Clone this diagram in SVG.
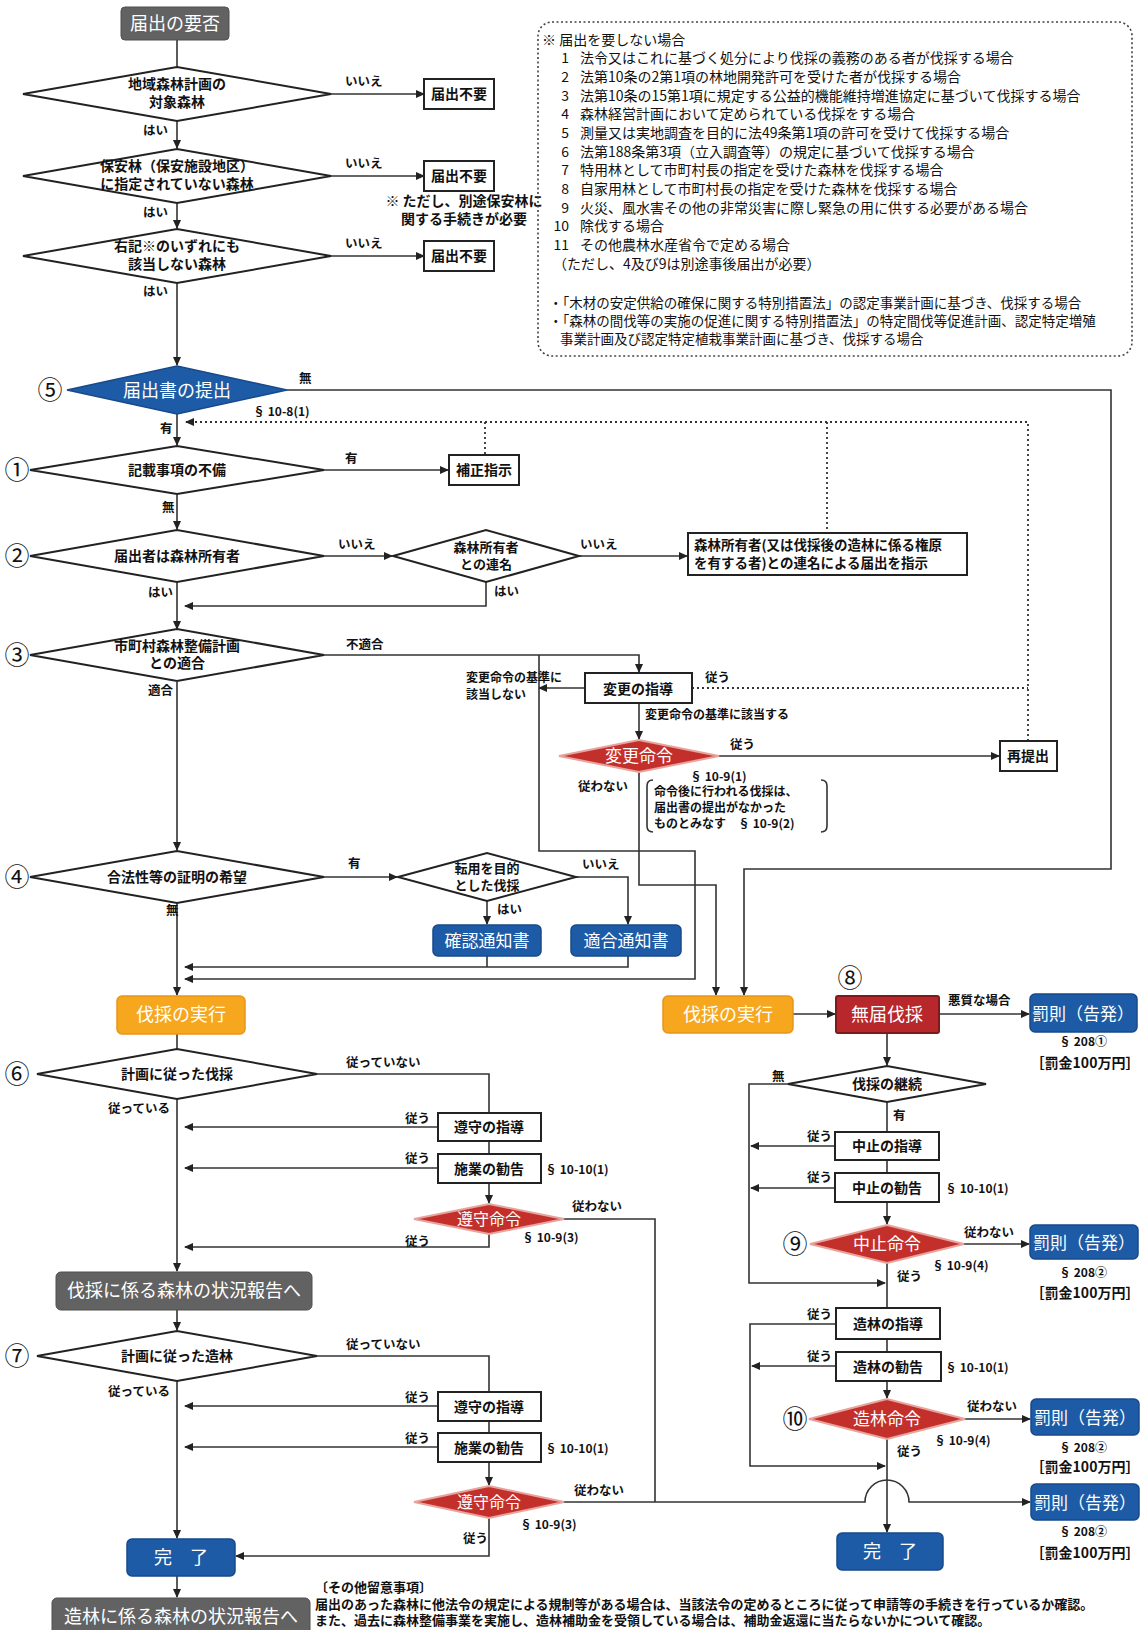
<svg xmlns="http://www.w3.org/2000/svg" width="1146" height="1630" viewBox="0 0 1146 1630">
<defs>
<marker id="ar" markerWidth="9" markerHeight="8" refX="8" refY="4" orient="auto" markerUnits="userSpaceOnUse"><path d="M0,0 L9,4 L0,8 z" fill="#222"/></marker>
<style>
text{font-family:"Noto Sans CJK JP","Liberation Sans",sans-serif;fill:#111}
.t{font-size:14px;font-weight:bold;text-anchor:middle}
.s{font-size:12.5px;font-weight:bold}
.sm{font-size:12px;font-weight:bold}
.w{font-size:18px;fill:#fff;text-anchor:middle}
.n{font-size:14px}
.nb{font-size:13.5px}
.rm{font-size:13px;font-weight:bold}
.cl{font-size:25px;text-anchor:middle}
.d{fill:#fff;stroke:#222;stroke-width:2}
.b{fill:#fff;stroke:#222;stroke-width:2}
.red{fill:#c3302b;stroke:#e8a39c;stroke-width:2}
.blue{fill:#1e5ba6;stroke:#174a8a;stroke-width:1.5}
.or{fill:#f6a71d;stroke:#e8951a;stroke-width:1.5}
.gr{fill:#626262;stroke:#4e4e4e;stroke-width:1}
.c{fill:none;stroke:#333;stroke-width:1.6}
.a{fill:none;stroke:#333;stroke-width:1.6;marker-end:url(#ar)}
.dt{fill:none;stroke:#333;stroke-width:1.8;stroke-dasharray:2 3}
</style>
</defs>
<rect width="1146" height="1630" fill="#fff"/>

<g id="connectors">
<line class="c" x1="177" y1="40" x2="177" y2="70"/>
<line class="a" x1="331" y1="94" x2="424" y2="94"/>
<line class="a" x1="177" y1="121" x2="177" y2="148"/>
<line class="a" x1="331" y1="176" x2="424" y2="176"/>
<line class="a" x1="177" y1="203" x2="177" y2="228"/>
<line class="a" x1="331" y1="256" x2="424" y2="256"/>
<line class="a" x1="177" y1="283" x2="177" y2="365"/>
<polyline class="a" points="287,390 1111,390 1111,869 744,869 744,995"/>
<line class="a" x1="177" y1="414" x2="177" y2="445"/>
<polyline class="dt" points="1028,741 1028,422 186,422" marker-end="url(#ar)"/>
<line class="dt" x1="485" y1="422" x2="485" y2="455"/>
<line class="dt" x1="827" y1="422" x2="827" y2="533"/>
<line class="dt" x1="692" y1="688" x2="1028" y2="688"/>
<line class="a" x1="324" y1="470" x2="448" y2="470"/>
<line class="a" x1="177" y1="494" x2="177" y2="529"/>
<line class="a" x1="324" y1="556" x2="392" y2="556"/>
<line class="a" x1="579" y1="556" x2="687" y2="556"/>
<polyline class="a" points="486,582 486,606 185,606"/>
<line class="a" x1="177" y1="582" x2="177" y2="629"/>
<polyline class="a" points="324,655 639,655 639,672"/>
<polyline class="a" points="585,688 539,688"/>
<polyline class="a" points="539,655 539,851 695,851 695,979 185,979"/>
<line class="a" x1="639" y1="703" x2="639" y2="739"/>
<line class="a" x1="719" y1="756" x2="999" y2="756"/>
<polyline class="a" points="639,772 639,885 716,885 716,995"/>
<line class="a" x1="177" y1="682" x2="177" y2="850"/>
<line class="a" x1="324" y1="877" x2="397" y2="877"/>
<polyline class="a" points="576,877 628,877 628,924"/>
<line class="a" x1="487" y1="901" x2="487" y2="924"/>
<polyline class="c" points="487,956 487,967"/>
<polyline class="a" points="628,956 628,967 185,967"/>
<line class="a" x1="177" y1="903" x2="177" y2="995"/>
<line class="c" x1="177" y1="1034" x2="177" y2="1049"/>
<line class="a" x1="793" y1="1014" x2="835" y2="1014"/>
<line class="a" x1="939" y1="1014" x2="1029" y2="1014"/>
<line class="a" x1="887" y1="1033" x2="887" y2="1065"/>
<polyline class="a" points="788,1084 749,1084 749,1283 885,1283"/>
<line class="c" x1="887" y1="1102" x2="887" y2="1132"/>
<line class="c" x1="887" y1="1160" x2="887" y2="1173"/>
<line class="a" x1="835" y1="1146" x2="751" y2="1146"/>
<line class="a" x1="835" y1="1188" x2="751" y2="1188"/>
<line class="a" x1="887" y1="1202" x2="887" y2="1224"/>
<line class="a" x1="964" y1="1244" x2="1029" y2="1244"/>
<line class="c" x1="887" y1="1263" x2="887" y2="1308"/>
<line class="c" x1="887" y1="1339" x2="887" y2="1352"/>
<polyline class="a" points="836,1324 750,1324 750,1466 885,1466"/>
<line class="a" x1="836" y1="1366" x2="752" y2="1366"/>
<line class="a" x1="887" y1="1381" x2="887" y2="1398"/>
<line class="a" x1="965" y1="1419" x2="1030" y2="1419"/>
<line class="a" x1="887" y1="1439" x2="887" y2="1532"/>
<path class="a" d="M564,1502 L865,1502 A22,22 0 0 1 909,1502 L1030,1502"/>
<polyline class="c" points="564,1219 655,1219 655,1502"/>
<polyline class="c" points="317,1074 489,1074 489,1113"/>
<line class="c" x1="489" y1="1141" x2="489" y2="1154"/>
<line class="a" x1="438" y1="1127" x2="185" y2="1127"/>
<line class="a" x1="438" y1="1168" x2="185" y2="1168"/>
<line class="a" x1="489" y1="1183" x2="489" y2="1203"/>
<polyline class="a" points="489,1234 489,1247 185,1247"/>
<line class="a" x1="177" y1="1099" x2="177" y2="1271"/>
<line class="a" x1="177" y1="1310" x2="177" y2="1330"/>
<polyline class="c" points="317,1356 489,1356 489,1392"/>
<line class="c" x1="489" y1="1421" x2="489" y2="1433"/>
<line class="a" x1="438" y1="1406" x2="185" y2="1406"/>
<line class="a" x1="438" y1="1447" x2="185" y2="1447"/>
<line class="a" x1="489" y1="1462" x2="489" y2="1485"/>
<polyline class="a" points="489,1518 489,1556 236,1556"/>
<line class="a" x1="177" y1="1381" x2="177" y2="1538"/>
<line class="a" x1="177" y1="1576" x2="177" y2="1597"/>
</g>

<g id="edge-labels">
<text class="s" x="345" y="86">いいえ</text>
<text class="s" x="143" y="135">はい</text>
<text class="s" x="345" y="168">いいえ</text>
<text class="s" x="143" y="217">はい</text>
<text class="s" x="345" y="248">いいえ</text>
<text class="s" x="143" y="296">はい</text>
<text class="s" x="299" y="383">無</text>
<text class="sm" x="253" y="416">§ 10-8(1)</text>
<text class="s" x="160" y="433">有</text>
<text class="s" x="345" y="463">有</text>
<text class="s" x="162" y="512">無</text>
<text class="s" x="338" y="549">いいえ</text>
<text class="s" x="580" y="549">いいえ</text>
<text class="s" x="148" y="597">はい</text>
<text class="s" x="494" y="596">はい</text>
<text class="s" x="346" y="649">不適合</text>
<text class="s" x="148" y="695">適合</text>
<text class="sm" x="466" y="682">変更命令の基準に</text>
<text class="sm" x="466" y="699">該当しない</text>
<text class="s" x="705" y="682">従う</text>
<text class="sm" x="645" y="719">変更命令の基準に該当する</text>
<text class="s" x="730" y="749">従う</text>
<text class="sm" x="690" y="781">§ 10-9(1)</text>
<text class="s" x="578" y="791">従わない</text>
<path class="c" d="M653,780 Q647,780 647,786 L647,826 Q647,832 653,832"/>
<path class="c" d="M821,780 Q827,780 827,786 L827,826 Q827,832 821,832"/>
<text class="sm" x="654" y="796">命令後に行われる伐採は、</text>
<text class="sm" x="654" y="812">届出書の提出がなかった</text>
<text class="sm" x="654" y="828">ものとみなす　§ 10-9(2)</text>
<text class="s" x="348" y="868">有</text>
<text class="s" x="582" y="869">いいえ</text>
<text class="s" x="497" y="914">はい</text>
<text class="s" x="166" y="915">無</text>
<text class="s" x="948" y="1005">悪質な場合</text>
<text class="sm" x="1083" y="1046" text-anchor="middle">§ 208①</text>
<text class="t" x="1085" y="1068">［罰金100万円］</text>
<text class="s" x="772" y="1081">無</text>
<text class="s" x="893" y="1120">有</text>
<text class="s" x="807" y="1141">従う</text>
<text class="s" x="807" y="1182">従う</text>
<text class="sm" x="945" y="1193">§ 10-10(1)</text>
<text class="s" x="964" y="1237">従わない</text>
<text class="sm" x="932" y="1270">§ 10-9(4)</text>
<text class="s" x="897" y="1281">従う</text>
<text class="sm" x="1083" y="1277" text-anchor="middle">§ 208②</text>
<text class="t" x="1085" y="1298">［罰金100万円］</text>
<text class="s" x="807" y="1319">従う</text>
<text class="s" x="807" y="1361">従う</text>
<text class="sm" x="945" y="1372">§ 10-10(1)</text>
<text class="s" x="967" y="1411">従わない</text>
<text class="sm" x="934" y="1445">§ 10-9(4)</text>
<text class="s" x="897" y="1456">従う</text>
<text class="sm" x="1083" y="1452" text-anchor="middle">§ 208②</text>
<text class="t" x="1085" y="1472">［罰金100万円］</text>
<text class="sm" x="1083" y="1536" text-anchor="middle">§ 208②</text>
<text class="t" x="1085" y="1558">［罰金100万円］</text>
<text class="s" x="346" y="1067">従っていない</text>
<text class="s" x="108" y="1113">従っている</text>
<text class="s" x="405" y="1123">従う</text>
<text class="s" x="405" y="1163">従う</text>
<text class="sm" x="545" y="1174">§ 10-10(1)</text>
<text class="s" x="572" y="1211">従わない</text>
<text class="sm" x="522" y="1242">§ 10-9(3)</text>
<text class="s" x="405" y="1246">従う</text>
<text class="s" x="346" y="1349">従っていない</text>
<text class="s" x="108" y="1396">従っている</text>
<text class="s" x="405" y="1402">従う</text>
<text class="s" x="405" y="1443">従う</text>
<text class="sm" x="545" y="1453">§ 10-10(1)</text>
<text class="s" x="574" y="1495">従わない</text>
<text class="sm" x="520" y="1529">§ 10-9(3)</text>
<text class="s" x="463" y="1543">従う</text>
</g>

<g id="n-start"><rect class="gr" x="121" y="7" width="108" height="33" rx="4"/><text class="w" x="175" y="30">届出の要否</text></g>
<g id="n-d1"><polygon class="d" points="23,94 177,67 331,94 177,121"/><text class="t" x="177" y="89">地域森林計画の</text><text class="t" x="177" y="107">対象森林</text></g>
<g id="n-f1"><rect class="b" x="424" y="79" width="70" height="30"/><text class="t" x="459" y="99">届出不要</text></g>
<g id="n-d2"><polygon class="d" points="23,176 177,149 331,176 177,203"/><text class="t" x="177" y="171">保安林（保安施設地区）</text><text class="t" x="177" y="189">に指定されていない森林</text></g>
<g id="n-f2"><rect class="b" x="424" y="161" width="70" height="30"/><text class="t" x="459" y="181">届出不要</text></g>
<g id="n-note1"><text class="t" x="464" y="206">※ ただし、別途保安林に</text><text class="t" x="464" y="224">関する手続きが必要</text></g>
<g id="n-d3"><polygon class="d" points="23,256 177,229 331,256 177,283"/><text class="t" x="177" y="251">右記※のいずれにも</text><text class="t" x="177" y="269">該当しない森林</text></g>
<g id="n-f3"><rect class="b" x="424" y="241" width="70" height="30"/><text class="t" x="459" y="261">届出不要</text></g>

<g id="n-exempt">
<rect x="538" y="22" width="594" height="334" rx="14" fill="none" stroke="#444" stroke-width="1.6" stroke-dasharray="2 2.5"/>
<text class="n" x="542" y="45">※ 届出を要しない場合</text>
<g class="n" text-anchor="end"><text x="569" y="63">1</text><text x="569" y="82">2</text><text x="569" y="101">3</text><text x="569" y="119">4</text><text x="569" y="138">5</text><text x="569" y="157">6</text><text x="569" y="175">7</text><text x="569" y="194">8</text><text x="569" y="213">9</text><text x="569" y="231">10</text><text x="569" y="250">11</text></g>
<text class="n" x="580" y="63">法令又はこれに基づく処分により伐採の義務のある者が伐採する場合</text>
<text class="n" x="580" y="82">法第10条の2第1項の林地開発許可を受けた者が伐採する場合</text>
<text class="n" x="580" y="101">法第10条の15第1項に規定する公益的機能維持増進協定に基づいて伐採する場合</text>
<text class="n" x="580" y="119">森林経営計画において定められている伐採をする場合</text>
<text class="n" x="580" y="138">測量又は実地調査を目的に法49条第1項の許可を受けて伐採する場合</text>
<text class="n" x="580" y="157">法第188条第3項（立入調査等）の規定に基づいて伐採する場合</text>
<text class="n" x="580" y="175">特用林として市町村長の指定を受けた森林を伐採する場合</text>
<text class="n" x="580" y="194">自家用林として市町村長の指定を受けた森林を伐採する場合</text>
<text class="n" x="580" y="213">火災、風水害その他の非常災害に際し緊急の用に供する必要がある場合</text>
<text class="n" x="580" y="231">除伐する場合</text>
<text class="n" x="580" y="250">その他農林水産省令で定める場合</text>
<text class="n" x="553" y="269">（ただし、4及び9は別途事後届出が必要）</text>
<text class="nb" x="549" y="308">・「木材の安定供給の確保に関する特別措置法」の認定事業計画に基づき、伐採する場合</text>
<text class="nb" x="549" y="326">・「森林の間伐等の実施の促進に関する特別措置法」の特定間伐等促進計画、認定特定増殖</text>
<text class="nb" x="560" y="344">事業計画及び認定特定植栽事業計画に基づき、伐採する場合</text>
</g>

<g id="n5"><text class="cl" x="50" y="399">⑤</text><polygon class="blue" points="67,390 177,366 287,390 177,414"/><text class="w" x="177" y="397">届出書の提出</text></g>
<g id="n1"><text class="cl" x="17" y="479">①</text><polygon class="d" points="30,470 177,446 324,470 177,494"/><text class="t" x="177" y="475">記載事項の不備</text></g>
<g id="n-hosei"><rect class="b" x="449" y="455" width="70" height="30"/><text class="t" x="484" y="475">補正指示</text></g>
<g id="n2"><text class="cl" x="17" y="565">②</text><polygon class="d" points="30,556 177,530 324,556 177,582"/><text class="t" x="177" y="561">届出者は森林所有者</text></g>
<g id="n2b"><polygon class="d" points="393,556 486,530 579,556 486,582"/><text class="t" x="486" y="552" style="font-size:13px">森林所有者</text><text class="t" x="486" y="569" style="font-size:13px">との連名</text></g>
<g id="n2c"><rect class="b" x="688" y="533" width="279" height="42"/><text class="nb" x="694" y="550" font-weight="bold">森林所有者(又は伐採後の造林に係る権原</text><text class="nb" x="694" y="568" font-weight="bold">を有する者)との連名による届出を指示</text></g>
<g id="n3"><text class="cl" x="17" y="664">③</text><polygon class="d" points="30,655 177,629 324,655 177,681"/><text class="t" x="177" y="651">市町村森林整備計画</text><text class="t" x="177" y="668">との適合</text></g>
<g id="n-henko-shido"><rect class="b" x="585" y="673" width="107" height="30"/><text class="t" x="638" y="694">変更の指導</text></g>
<g id="n-henko-meirei"><polygon class="red" points="559,756 639,740 719,756 639,772"/><text class="w" x="639" y="762" style="font-size:17px">変更命令</text></g>
<g id="n-saiteishutsu"><rect class="b" x="1000" y="741" width="57" height="30"/><text class="t" x="1028" y="761">再提出</text></g>
<g id="n4"><text class="cl" x="17" y="886">④</text><polygon class="d" points="30,877 177,851 324,877 177,903"/><text class="t" x="177" y="882">合法性等の証明の希望</text></g>
<g id="n4b"><polygon class="d" points="398,877 487,853 576,877 487,901"/><text class="t" x="487" y="873" style="font-size:13px">転用を目的</text><text class="t" x="487" y="890" style="font-size:13px">とした伐採</text></g>
<g id="n-kakunin"><rect class="blue" x="433" y="925" width="108" height="31" rx="5"/><text class="w" x="487" y="947" style="font-size:17px">確認通知書</text></g>
<g id="n-tekigo"><rect class="blue" x="571" y="925" width="110" height="31" rx="5"/><text class="w" x="626" y="947" style="font-size:17px">適合通知書</text></g>
<g id="n-bassai-l"><rect class="or" x="117" y="996" width="128" height="38" rx="5"/><text class="w" x="181" y="1021">伐採の実行</text></g>
<g id="n-bassai-r"><rect class="or" x="663" y="996" width="130" height="37" rx="5"/><text class="w" x="728" y="1021">伐採の実行</text></g>
<g id="n8"><text class="cl" x="850" y="987">⑧</text><rect x="836" y="996" width="103" height="37" rx="2" fill="#b8272b" stroke="#7e1a1a" stroke-width="2"/><text class="w" x="887" y="1021">無届伐採</text></g>
<g id="n-bassoku1"><rect class="blue" x="1030" y="994" width="107" height="38" rx="5"/><text class="w" x="1083" y="1020" style="font-size:17px">罰則（告発）</text></g>
<g id="n-keizoku"><polygon class="d" points="788,1084 887,1066 986,1084 887,1102"/><text class="t" x="887" y="1089">伐採の継続</text></g>
<g id="n-chushi-shido"><rect class="b" x="835" y="1132" width="104" height="28"/><text class="t" x="887" y="1151">中止の指導</text></g>
<g id="n-chushi-kankoku"><rect class="b" x="835" y="1173" width="104" height="29"/><text class="t" x="887" y="1193">中止の勧告</text></g>
<g id="n9"><text class="cl" x="795" y="1253">⑨</text><polygon class="red" points="810,1244 887,1225 964,1244 887,1263"/><text class="w" x="887" y="1250" style="font-size:17px">中止命令</text></g>
<g id="n-bassoku2"><rect class="blue" x="1030" y="1225" width="108" height="34" rx="5"/><text class="w" x="1084" y="1249" style="font-size:17px">罰則（告発）</text></g>
<g id="n-zorin-shido"><rect class="b" x="836" y="1308" width="104" height="31"/><text class="t" x="888" y="1329">造林の指導</text></g>
<g id="n-zorin-kankoku"><rect class="b" x="836" y="1352" width="105" height="29"/><text class="t" x="888" y="1372">造林の勧告</text></g>
<g id="n10"><text class="cl" x="795" y="1428">⑩</text><polygon class="red" points="809,1419 887,1399 965,1419 887,1439"/><text class="w" x="887" y="1425" style="font-size:17px">造林命令</text></g>
<g id="n-bassoku3"><rect class="blue" x="1031" y="1399" width="108" height="36" rx="5"/><text class="w" x="1085" y="1424" style="font-size:17px">罰則（告発）</text></g>
<g id="n-bassoku4"><rect class="blue" x="1031" y="1484" width="108" height="36" rx="5"/><text class="w" x="1085" y="1509" style="font-size:17px">罰則（告発）</text></g>
<g id="n-kanryo-r"><rect class="blue" x="837" y="1533" width="106" height="37" rx="5"/><text class="w" x="890" y="1558">完　了</text></g>
<g id="n6"><text class="cl" x="17" y="1083">⑥</text><polygon class="d" points="37,1074 177,1049 317,1074 177,1099"/><text class="t" x="177" y="1079">計画に従った伐採</text></g>
<g id="n6-shido"><rect class="b" x="438" y="1113" width="103" height="28"/><text class="t" x="489" y="1132">遵守の指導</text></g>
<g id="n6-kankoku"><rect class="b" x="438" y="1154" width="103" height="29"/><text class="t" x="489" y="1174">施業の勧告</text></g>
<g id="n6-meirei"><polygon class="red" points="414,1219 489,1204 564,1219 489,1234"/><text class="w" x="489" y="1225" style="font-size:16px">遵守命令</text></g>
<g id="n-report1"><rect class="gr" x="56" y="1272" width="256" height="38" rx="5"/><text class="w" x="184" y="1297">伐採に係る森林の状況報告へ</text></g>
<g id="n7"><text class="cl" x="17" y="1365">⑦</text><polygon class="d" points="37,1356 177,1331 317,1356 177,1381"/><text class="t" x="177" y="1361">計画に従った造林</text></g>
<g id="n7-shido"><rect class="b" x="438" y="1392" width="103" height="29"/><text class="t" x="489" y="1412">遵守の指導</text></g>
<g id="n7-kankoku"><rect class="b" x="438" y="1433" width="103" height="29"/><text class="t" x="489" y="1453">施業の勧告</text></g>
<g id="n7-meirei"><polygon class="red" points="414,1502 489,1486 564,1502 489,1518"/><text class="w" x="489" y="1508" style="font-size:16px">遵守命令</text></g>
<g id="n-kanryo-l"><rect class="blue" x="127" y="1539" width="108" height="37" rx="5"/><text class="w" x="181" y="1564">完　了</text></g>
<g id="n-report2"><rect class="gr" x="52" y="1598" width="258" height="40" rx="5"/><text class="w" x="181" y="1623">造林に係る森林の状況報告へ</text></g>
<g id="n-remarks">
<text class="rm" x="315" y="1592">〔その他留意事項〕</text>
<text class="rm" x="315" y="1609">届出のあった森林に他法令の規定による規制等がある場合は、当該法令の定めるところに従って申請等の手続きを行っているか確認。</text>
<text class="rm" x="315" y="1625">また、過去に森林整備事業を実施し、造林補助金を受領している場合は、補助金返還に当たらないかについて確認。</text>
</g>
</svg>
